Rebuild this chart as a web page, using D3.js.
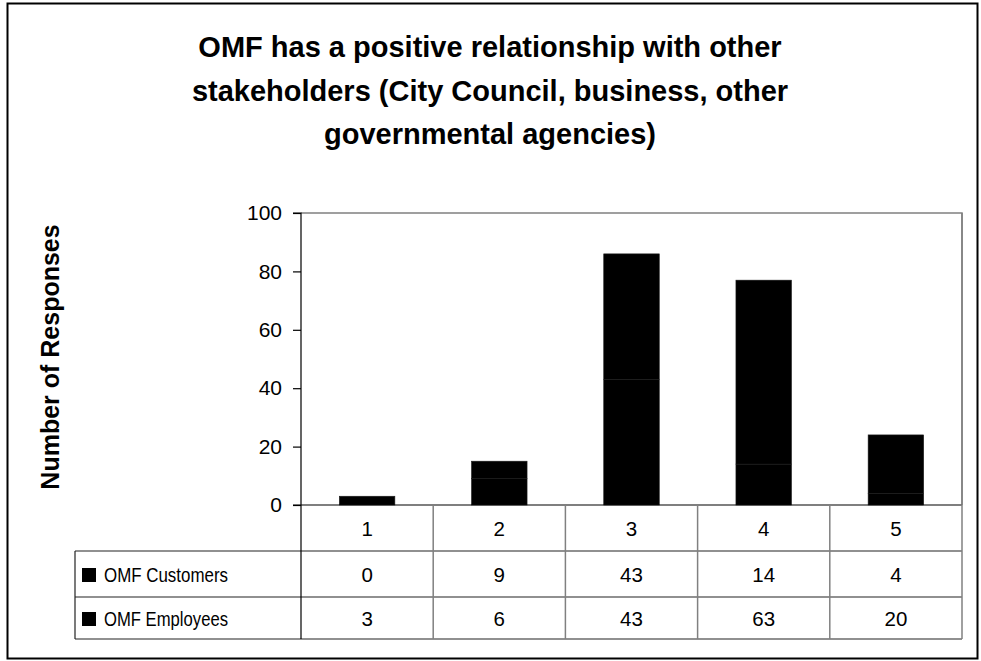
<!DOCTYPE html>
<html>
<head>
<meta charset="utf-8">
<script src="https://cdn.jsdelivr.net/npm/d3@7"></script>
<style>
  html, body { margin: 0; padding: 0; background: #fff; }
  svg { display: block; font-family: "Liberation Sans", Arial, sans-serif; }
</style>
</head>
<body>
<svg id="chart" width="981" height="661"></svg>
<script>
// Survey responses on a 1–5 agreement scale
const categories = ["1", "2", "3", "4", "5"];
const seriesNames = ["OMF Customers", "OMF Employees"];
const customers = [0, 9, 43, 14, 4];
const employees = [3, 6, 43, 63, 20];
const yTicks = [0, 20, 40, 60, 80, 100];
const titleLines = [
  "OMF has a positive relationship with other",
  "stakeholders (City Council, business, other",
  "governmental agencies)"
];
const yTitle = "Number of Responses";

const svg = d3.select("#chart");

// chart area frame
svg.append("rect")
  .attr("x", 7.5).attr("y", 3.5)
  .attr("width", 970).attr("height", 655)
  .attr("fill", "#fff").attr("stroke", "#000").attr("stroke-width", 2);

// plot geometry
const plot = { left: 301, right: 962, top: 213, bottom: 505 };
const table = { left: 75, rowH: [46, 46, 42] };

const x = d3.scaleBand().domain(categories).range([plot.left, plot.right]).padding(0);
const y = d3.scaleLinear().domain([0, 100]).range([plot.bottom, plot.top]);

// title
svg.append("g").selectAll("text").data(titleLines).join("text")
  .attr("x", 490).attr("y", (d, i) => 57 + i * 43.5)
  .attr("text-anchor", "middle")
  .attr("font-size", 29).attr("font-weight", "bold").attr("fill", "#000")
  .text(d => d);

// plot border (top & right in grey)
svg.append("path")
  .attr("d", `M${plot.left},${plot.top}H${plot.right}V${plot.bottom}`)
  .attr("fill", "none").attr("stroke", "#808080").attr("stroke-width", 1.5);

// stacked bars
const rows = categories.map((c, i) => ({ cat: c, "OMF Customers": customers[i], "OMF Employees": employees[i] }));
const stacked = d3.stack().keys(seriesNames)(rows);
const barW = x.bandwidth() * 0.42;
svg.append("g").selectAll("g").data(stacked).join("g")
  .selectAll("rect").data(d => d).join("rect")
  .attr("x", d => x(d.data.cat) + (x.bandwidth() - barW) / 2)
  .attr("y", d => y(d[1]))
  .attr("width", barW)
  .attr("height", d => y(d[0]) - y(d[1]))
  .attr("fill", "#000")
  .attr("stroke", d => (d[1] - d[0]) > 0 ? "#1c1c1c" : "none")
  .attr("stroke-width", 0.6);

// y axis
const yAxis = d3.axisLeft(y).tickValues(yTicks).tickSize(8).tickPadding(11);
const gy = svg.append("g").attr("transform", `translate(${plot.left},0)`).call(yAxis);
gy.select(".domain").attr("stroke", "#000").attr("stroke-width", 1.2).attr("d", `M-8,${plot.top}H0V${plot.bottom}`);
gy.selectAll(".tick line").attr("stroke", "#000").attr("stroke-width", 1.2);
gy.selectAll(".tick text").attr("font-size", 21).attr("fill", "#000")
  .attr("font-family", "'Liberation Sans', Arial, sans-serif");

// baseline
svg.append("line")
  .attr("x1", plot.left - 8).attr("x2", plot.right)
  .attr("y1", plot.bottom).attr("y2", plot.bottom)
  .attr("stroke", "#000").attr("stroke-width", 1.2);

// y axis title
svg.append("text")
  .attr("transform", `translate(59,357) rotate(-90)`)
  .attr("text-anchor", "middle")
  .attr("font-size", 25).attr("font-weight", "bold").attr("fill", "#000")
  .text(yTitle);

// data table
const r0 = plot.bottom;
const r1 = r0 + table.rowH[0];
const r2 = r1 + table.rowH[1];
const r3 = r2 + table.rowH[2];
const tg = svg.append("g");

// horizontal rules
[r1, r2, r3].forEach(yy => {
  tg.append("line").attr("x1", table.left).attr("x2", plot.right)
    .attr("y1", yy).attr("y2", yy).attr("stroke", "#222").attr("stroke-width", 1.2);
});
// vertical rules
tg.append("line").attr("x1", table.left).attr("x2", table.left)
  .attr("y1", r1).attr("y2", r3).attr("stroke", "#222").attr("stroke-width", 1.2);
tg.append("line").attr("x1", plot.left).attr("x2", plot.left)
  .attr("y1", r0).attr("y2", r3).attr("stroke", "#000").attr("stroke-width", 1.2);
categories.forEach(c => {
  const xx = x(c) + x.bandwidth();
  tg.append("line").attr("x1", xx).attr("x2", xx)
    .attr("y1", c === categories[categories.length - 1] ? plot.top : r0).attr("y2", r3)
    .attr("stroke", "#808080").attr("stroke-width", 1.5);
});

// category labels
tg.selectAll("text.cat").data(categories).join("text").attr("class", "cat")
  .attr("x", d => x(d) + x.bandwidth() / 2).attr("y", (r0 + r1) / 2 + 7.5)
  .attr("text-anchor", "middle").attr("font-size", 20.5).attr("fill", "#000")
  .text(d => d);

// series rows
const seriesValues = [customers, employees];
const rowMid = [(r1 + r2) / 2, (r2 + r3) / 2];
seriesNames.forEach((name, si) => {
  tg.append("rect")
    .attr("x", 82).attr("y", rowMid[si] - 6).attr("width", 14).attr("height", 14)
    .attr("fill", "#000");
  tg.append("text")
    .attr("x", 104).attr("y", rowMid[si] + 7.5)
    .attr("font-size", 21).attr("textLength", 124).attr("lengthAdjust", "spacingAndGlyphs")
    .attr("fill", "#000")
    .text(name);
  tg.selectAll(null).data(seriesValues[si]).join("text")
    .attr("x", (d, i) => x(categories[i]) + x.bandwidth() / 2)
    .attr("y", rowMid[si] + 7.5)
    .attr("text-anchor", "middle").attr("font-size", 20.5).attr("fill", "#000")
    .text(d => d);
});
</script>
</body>
</html>
